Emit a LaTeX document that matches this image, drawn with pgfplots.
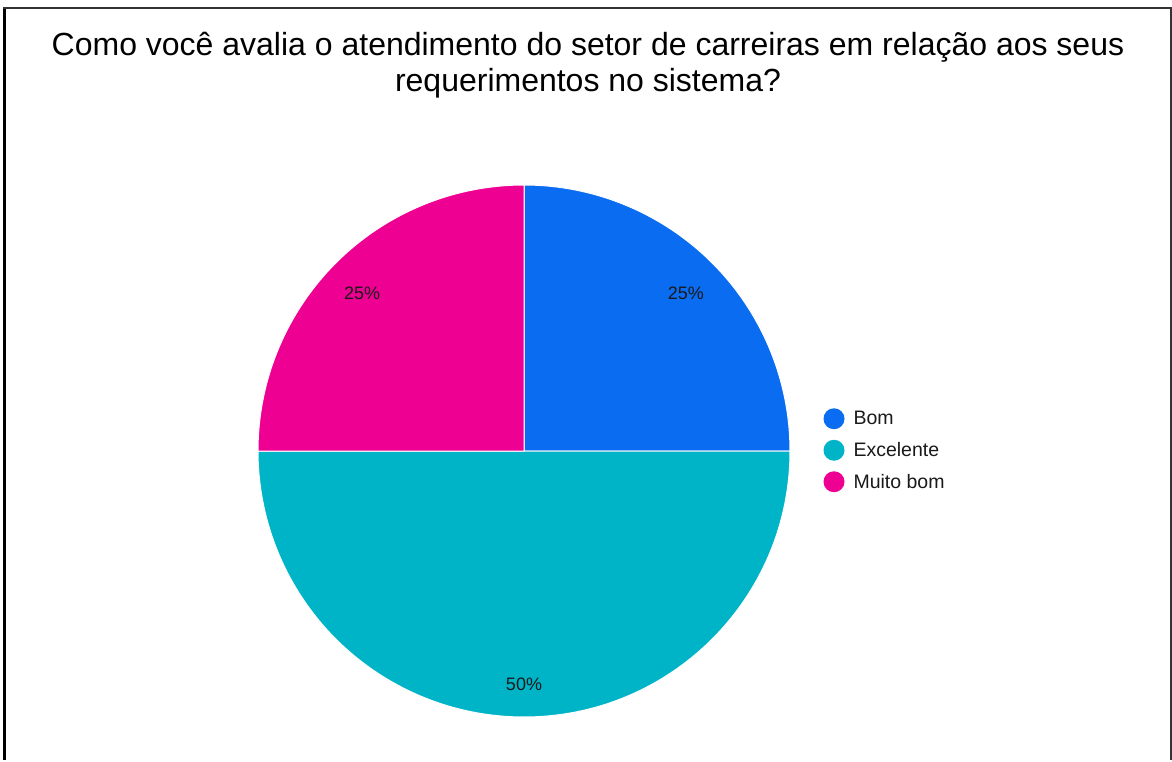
\documentclass[border=0pt]{standalone}
\usepackage{fontspec}
\setmainfont{Liberation Sans}
\usepackage{pgfplots}
\usepackage{pgfplotstable}
\usepackage{etoolbox}
\pgfplotsset{compat=1.18}
\definecolor{cBom}{HTML}{0A6CF0}
\definecolor{cExc}{HTML}{00B4C8}
\definecolor{cMuito}{HTML}{EE0093}
\newcommand\pctfont{\fontsize{18}{21}\selectfont}

\pgfplotstableread[col sep=comma]{
label,value,color
Bom,25,cBom
Excelente,50,cExc
Muito bom,25,cMuito
}\piedata

\def\cx{524}\def\cy{-451}\def\R{266}\def\Rl{229}
\gdef\pieslices{}
\def\cum{0}
\pgfplotsforeachungrouped \i in {0,1,2}{%
  \pgfplotstablegetelem{\i}{value}\of\piedata \edef\v{\pgfplotsretval}%
  \pgfplotstablegetelem{\i}{color}\of\piedata \edef\c{\pgfplotsretval}%
  \pgfmathsetmacro\sa{90-3.6*\cum}%
  \pgfmathsetmacro\ea{\sa-3.6*\v}%
  \pgfmathsetmacro\ma{(\sa+\ea)/2}%
  \pgfmathsetmacro\cum{\cum+\v}%
  \xappto\pieslices{\noexpand\fill[\c, draw=white, line width=1pt] (axis cs:\cx,\cy) -- ++(\sa:\R pt) arc[start angle=\sa, end angle=\ea, radius=\R pt] -- cycle;
    \noexpand\path (axis cs:\cx,\cy) ++(\ma:\Rl pt) node[yshift=-4pt, font=\noexpand\pctfont, text=black!90] {\v\%};}%
}

\begin{document}
\begin{tikzpicture}
\begin{axis}[x=1pt, y=1pt, xmin=0, xmax=1172, ymin=-760, ymax=0,
  hide axis, clip=false, at={(0,0)}, anchor=south west,
  legend style={draw=none, fill=none, inner sep=0pt, outer sep=0pt,
    nodes={inner sep=0pt, anchor=west}, row sep=0pt, column sep=9pt,
    at={(axis cs:823.5,-403)}, anchor=north west,
    font=\fontsize{19.5}{22}\selectfont, text=black!90},
  legend cell align=left]
\path (axis cs:0,0) rectangle (axis cs:1172,-760);
\pieslices
\addlegendimage{cBom, legend image code/.code={\path[draw=none,fill=none] (0pt,-15.75pt) rectangle (21pt,15.75pt); \fill[draw=none] (10.5pt,0pt) circle (10.5pt);}}
\addlegendentry{Bom}
\addlegendimage{cExc, legend image code/.code={\path[draw=none,fill=none] (0pt,-15.75pt) rectangle (21pt,15.75pt); \fill[draw=none] (10.5pt,0pt) circle (10.5pt);}}
\addlegendentry{Excelente}
\addlegendimage{cMuito, legend image code/.code={\path[draw=none,fill=none] (0pt,-15.75pt) rectangle (21pt,15.75pt); \fill[draw=none] (10.5pt,0pt) circle (10.5pt);}}
\addlegendentry{Muito bom}
\node[anchor=base, inner sep=0pt, font=\fontsize{32}{35}\selectfont, text=black] at (axis cs:588,-56)
  {Como você avalia o atendimento do setor de carreiras em relação aos seus};
\node[anchor=base, inner sep=0pt, font=\fontsize{32}{35}\selectfont, text=black] at (axis cs:588,-92)
  {requerimentos no sistema?};
\draw[line width=3pt, black] (axis cs:4.5,-760) -- (axis cs:4.5,-8);
\draw[line width=2pt, black!80] (axis cs:3,-8) -- (axis cs:1170.7,-8) -- (axis cs:1170.7,-760);
\end{axis}
\end{tikzpicture}
\end{document}
